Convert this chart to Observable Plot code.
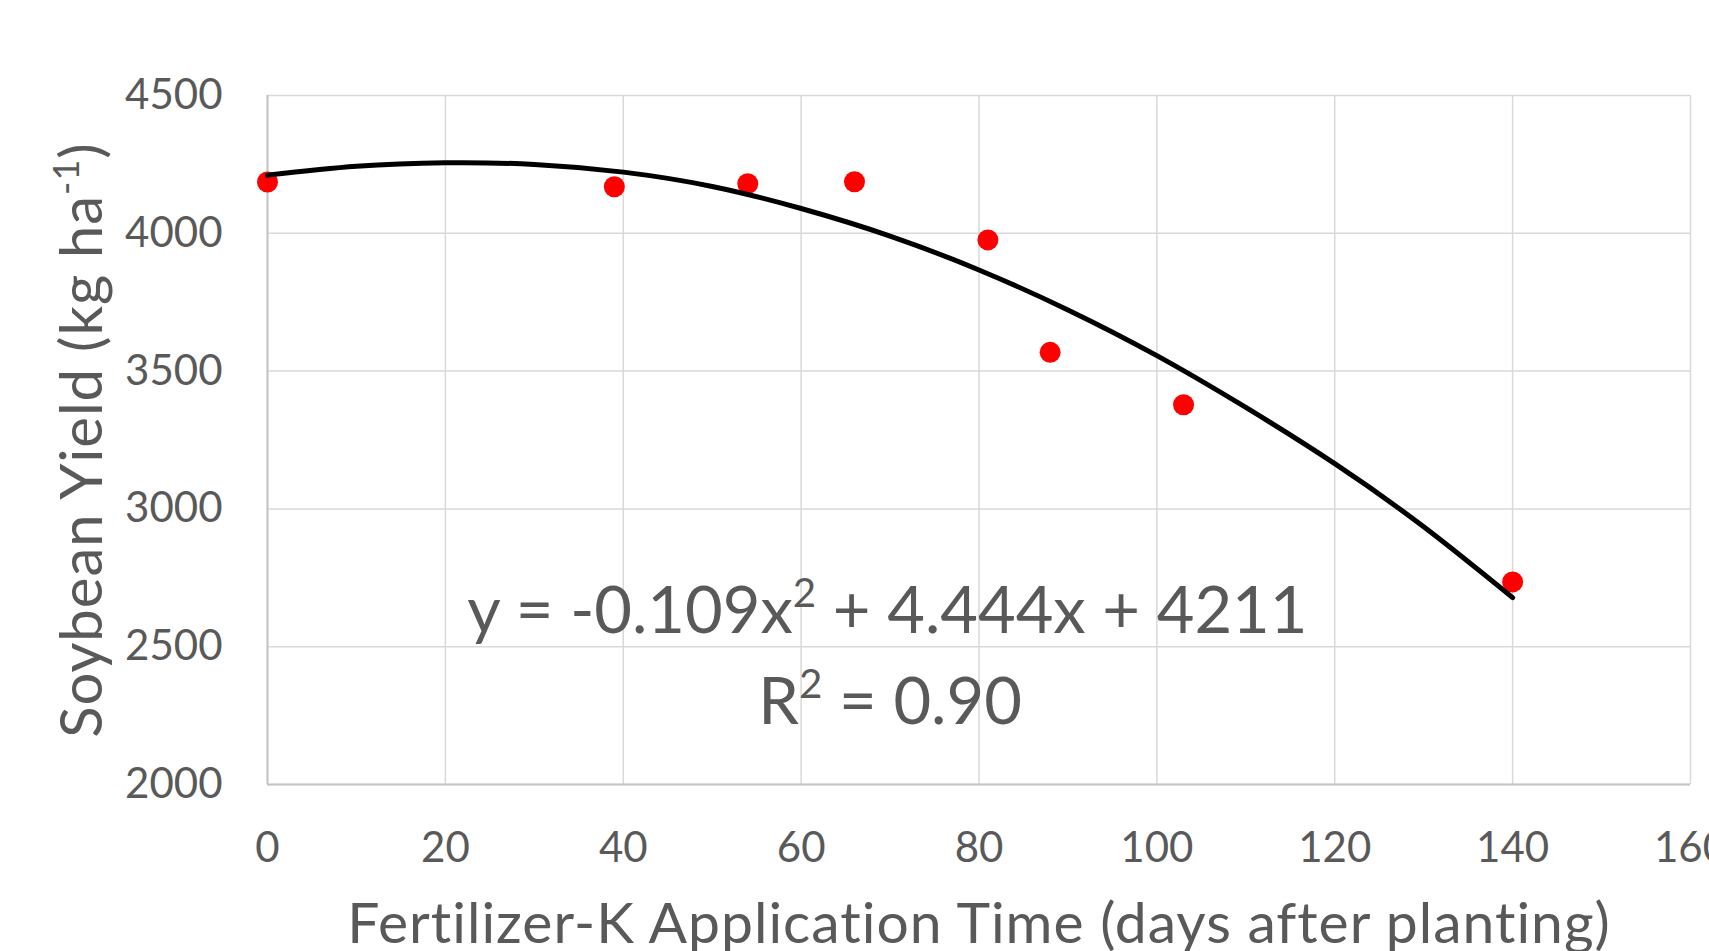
<!DOCTYPE html>
<html><head><meta charset="utf-8">
<script src="https://cdn.jsdelivr.net/npm/d3@7"></script>
<script src="https://cdn.jsdelivr.net/npm/@observablehq/plot@0.6"></script>
<style>
html,body{margin:0;padding:0;background:#fff;overflow:hidden;}
#chart svg{display:block;}
</style>
</head><body><div id="chart"></div>
<script>
// Observed points
const applicationDays = [0, 39, 54, 66, 81, 88, 103, 140];
const soybeanYield = [4186, 4169, 4180, 4187, 3976, 3568, 3378, 2735];
// Trendline
const trendDays = [0, 10, 20, 30, 40, 50, 60, 70, 80, 90, 100, 110, 120, 130, 140];
const trendYield = [4211, 4243, 4256, 4250, 4222, 4170, 4090, 3990, 3867, 3722, 3556, 3368, 3164, 2935, 2678];
// Ticks
const xTicks = [0, 20, 40, 60, 80, 100, 120, 140, 160];
const yTicks = [2000, 2500, 3000, 3500, 4000, 4500];
// Texts
const xTitle = "Fertilizer-K Application Time (days after planting)";
const yTitle = "Soybean Yield (kg ha-1)";
const equationText = ["y = -0.109x2 + 4.444x + 4211", "R2 = 0.90"];

const points = applicationDays.map((d, i) => ({day: d, yield: soybeanYield[i]}));
const trend = trendDays.map((d, i) => ({day: d, yield: trendYield[i]}));

const textColor = "#595959";
const font = "Lato, 'Open Sans', sans-serif";

const chart = Plot.plot({
  width: 1709,
  height: 951,
  marginLeft: 267,
  marginRight: 19,
  marginTop: 95,
  marginBottom: 167,
  style: {fontFamily: font, color: textColor, background: "#fff"},
  x: {domain: [0, 160], ticks: xTicks},
  y: {domain: [2000, 4500], ticks: yTicks},
  marks: [
    Plot.gridX(xTicks, {stroke: "#d9d9d9", strokeOpacity: 1, strokeWidth: 1.5}),
    Plot.gridY(yTicks, {stroke: "#d9d9d9", strokeOpacity: 1, strokeWidth: 1.5}),
    Plot.ruleX([0], {stroke: "#c4c4c4", strokeWidth: 2}),
    Plot.ruleY([2000], {stroke: "#c4c4c4", strokeWidth: 2}),
    Plot.axisX(xTicks, {tickSize: 0, tickPadding: 48, fontSize: 42, label: null, fill: textColor, tickFormat: d => String(d)}),
    Plot.axisY(yTicks, {tickSize: 0, tickPadding: 45, fontSize: 42, label: null, fill: textColor, tickFormat: d => String(d)}),
    Plot.dot(points, {x: "day", y: "yield", r: 10.5, fill: "#ff0000", stroke: null}),
    Plot.line(trend, {x: "day", y: "yield", curve: "natural", stroke: "#000", strokeWidth: 5, strokeLinecap: "round"}),
    Plot.text([xTitle], {frameAnchor: "bottom", dy: 140, text: d => d, fontSize: 57, fill: textColor, lineAnchor: "middle", textAnchor: "middle"}),
    Plot.text([yTitle], {frameAnchor: "left", dx: -184, rotate: -90, text: d => d, fontSize: 58, fill: textColor, lineAnchor: "middle", textAnchor: "middle"}),
    Plot.text([equationText[0]], {x: () => 69.7, y: () => 2624, text: d => d, fontSize: 65, fill: textColor}),
    Plot.text([equationText[1]], {x: () => 70, y: () => 2294, text: d => d, fontSize: 65, fill: textColor})
  ]
});

document.getElementById("chart").appendChild(chart);

// Widen titles slightly (letter spacing)
d3.select(chart).selectAll("text").filter(function() { return this.textContent === xTitle || this.textContent === yTitle; })
  .style("letter-spacing", "1px");

// Superscripts
function superscript(match, parts) {
  d3.select(chart).selectAll("text").each(function() {
    if (this.textContent === match) {
      const el = d3.select(this);
      const fs = parseFloat(el.attr("font-size") || getComputedStyle(this).fontSize);
      el.text(null);
      parts.forEach(([s, sup]) => {
        const t = el.append("tspan").text(s);
        if (sup) {
          t.attr("font-size", fs * 0.62).attr("dy", -fs * 0.4);
        } else if (t.node().previousSibling && t.node().previousSibling.getAttribute("dy")) {
          t.attr("dy", fs * 0.4);
        }
      });
    }
  });
}
superscript(yTitle, [["Soybean Yield (kg ha", false], ["-1", true], [")", false]]);
superscript(equationText[0], [["y = -0.109x", false], ["2", true], [" + 4.444x + 4211", false]]);
superscript(equationText[1], [["R", false], ["2", true], [" = 0.90", false]]);
</script>
</body></html>
